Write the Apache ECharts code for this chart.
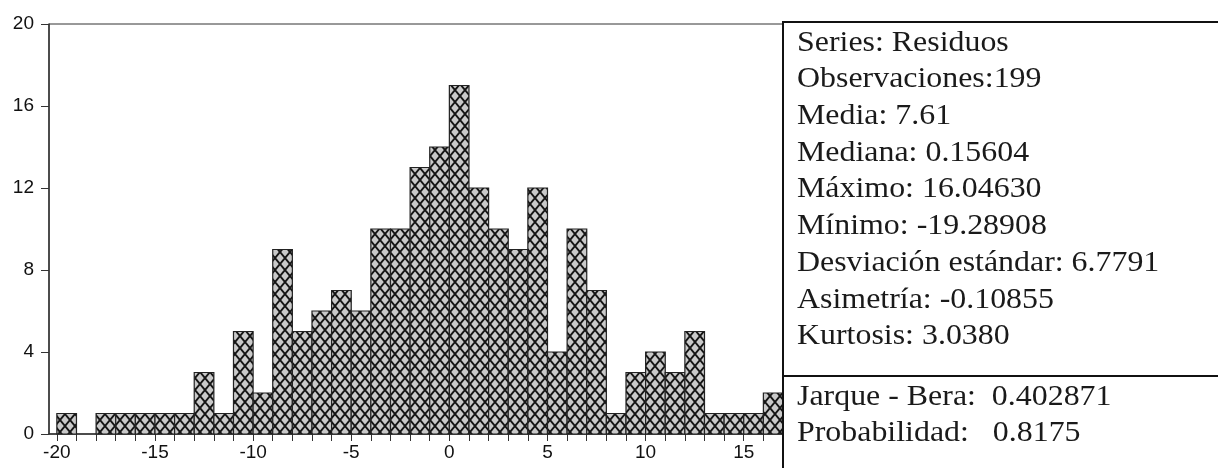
<!DOCTYPE html>
<html>
<head>
<meta charset="utf-8">
<script src="https://cdn.jsdelivr.net/npm/echarts@6/dist/echarts.min.js"></script>
<style>
html, body { margin: 0; padding: 0; background: #fff; }
#chart { width: 1218px; height: 468px; }
</style>
</head>
<body>
<div id="chart"></div>
<script>
// histograma de residuos, bins de ancho 1
var binStart = [-20,-19,-18,-17,-16,-15,-14,-13,-12,-11,-10,-9,-8,-7,-6,-5,-4,-3,-2,-1,
                0,1,2,3,4,5,6,7,8,9,10,11,12,13,14,15,16];
var counts   = [1,0,1,1,1,1,1,3,1,5,2,9,5,6,7,6,10,10,13,14,
                17,12,10,9,12,4,10,7,1,3,4,3,5,1,1,1,2];
var binWidth = 1;
var xTicks = [-20,-19,-18,-17,-16,-15,-14,-13,-12,-11,-10,-9,-8,-7,-6,-5,-4,-3,-2,-1,
              0,1,2,3,4,5,6,7,8,9,10,11,12,13,14,15,16];
var xLabels = [-20,-15,-10,-5,0,5,10,15];

var statsTop = [
    'Series: Residuos',
    'Observaciones:199',
    'Media: 7.61',
    'Mediana: 0.15604',
    'Máximo: 16.04630',
    'Mínimo: -19.28908',
    'Desviación estándar: 6.7791',
    'Asimetría: -0.10855',
    'Kurtosis: 3.0380'
];
var statsBottom = [
    'Jarque - Bera:  0.402871',
    'Probabilidad:   0.8175'
];

// trama cruzada
var tile = document.createElement('canvas');
tile.width = 10; tile.height = 12;
var ctx = tile.getContext('2d');
ctx.fillStyle = '#c9c9c9';
ctx.fillRect(0, 0, 10, 12);
ctx.strokeStyle = '#151515';
ctx.lineWidth = 1.9;
ctx.beginPath();
ctx.moveTo(-1, -1.2); ctx.lineTo(11, 13.2);
ctx.moveTo(11, -1.2); ctx.lineTo(-1, 13.2);
ctx.stroke();
var hatch = { type: 'pattern', image: tile, repeat: 'repeat' };

var data = [];
for (var i = 0; i < binStart.length; i++) {
    data.push([binStart[i], binStart[i] + binWidth, counts[i]]);
}

var serif = 'Liberation Serif';
var graphics = [
    { type: 'rect', shape: { x: 783, y: 22, width: 600, height: 600 },
      style: { fill: 'none', stroke: '#111', lineWidth: 2 }, z: 10 },
    { type: 'line', shape: { x1: 783, y1: 376, x2: 1218, y2: 376 },
      style: { stroke: '#111', lineWidth: 2 }, z: 10 }
];
for (var j = 0; j < statsTop.length; j++) {
    graphics.push({ type: 'text', x: 797, y: 43 + j * 36.7, scaleX: 1.1, z: 10,
        style: { text: statsTop[j], fill: '#1a1a1a', fontFamily: serif, fontSize: 29,
                 verticalAlign: 'middle', align: 'left' } });
}
for (var k = 0; k < statsBottom.length; k++) {
    graphics.push({ type: 'text', x: 797, y: 397 + k * 36.5, scaleX: 1.1, z: 10,
        style: { text: statsBottom[k], fill: '#1a1a1a', fontFamily: serif, fontSize: 29,
                 verticalAlign: 'middle', align: 'left' } });
}

var chart = echarts.init(document.getElementById('chart'));
chart.setOption({
    animation: false,
    backgroundColor: '#fff',
    grid: { left: 49, right: 435, top: 24, bottom: 34, show: true, borderColor: '#333', borderWidth: 1 },
    xAxis: {
        type: 'value', min: -20.4, max: 17,
        axisLine: { show: true, onZero: false, lineStyle: { color: '#333', width: 1.5 } },
        axisTick: { show: true, length: 7, customValues: xTicks, lineStyle: { color: '#333' } },
        axisLabel: { customValues: xLabels, fontSize: 19, color: '#111', margin: 9,
                     fontFamily: 'Liberation Sans' },
        splitLine: { show: false }
    },
    yAxis: {
        type: 'value', min: 0, max: 20, interval: 4,
        axisLine: { show: true, onZero: false, lineStyle: { color: '#333', width: 1.5 } },
        axisTick: { show: true, length: 8, lineStyle: { color: '#333' } },
        axisLabel: { fontSize: 19, color: '#111', margin: 15,
                     fontFamily: 'Liberation Sans' },
        splitLine: { show: false }
    },
    series: [{
        type: 'custom',
        data: data,
        encode: { x: [0, 1], y: 2 },
        renderItem: function (params, api) {
            var h = api.value(2);
            if (!h) return null;
            var p0 = api.coord([api.value(0), h]);
            var p1 = api.coord([api.value(1), 0]);
            return {
                type: 'rect',
                shape: { x: p0[0], y: p0[1], width: p1[0] - p0[0], height: p1[1] - p0[1] },
                style: { fill: hatch, stroke: '#222', lineWidth: 1.2 }
            };
        }
    }],
    graphic: graphics
});
</script>
</body>
</html>
